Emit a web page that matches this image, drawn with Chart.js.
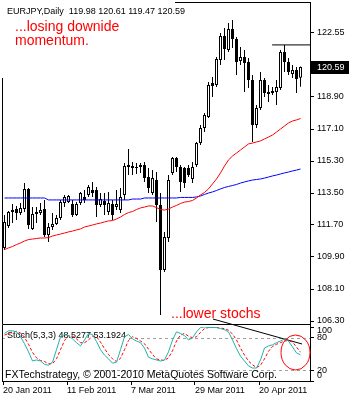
<!DOCTYPE html>
<html>
<head>
<meta charset="utf-8">
<title>EURJPY Daily</title>
<script src="https://cdn.jsdelivr.net/npm/chart.js@4.4.1/dist/chart.umd.min.js"></script>
<style>
  html, body { margin: 0; padding: 0; background: #fff; }
  #wrap { position: relative; width: 350px; height: 400px; overflow: hidden; }
  #wrap canvas { position: absolute; left: 0; }
  #priceChart { top: 0; }
  #stochChart { top: 300px; }
</style>
</head>
<body>
<div id="wrap">
  <canvas id="priceChart" width="350" height="324"></canvas>
  <canvas id="stochChart" width="350" height="100"></canvas>
</div>
<script>
// EURJPY daily bars from 20 Jan 2011 (bar index 0..74)
const opens = [
  110.41, 111.64, 112.54, 112.60, 112.38, 112.60, 113.72, 111.47, 112.32, 112.38,
  112.60, 111.14, 111.59, 111.76, 112.09, 112.94, 112.99, 112.88, 112.26, 112.94,
  113.28, 113.39, 113.67, 113.67, 112.83, 113.05, 112.43, 112.88, 112.71, 112.54,
  113.39, 115.08, 115.02, 114.96, 115.08, 115.08, 114.40, 113.50, 114.23, 112.83,
  109.17, 110.97, 114.63, 115.47, 114.96, 114.91, 114.91, 114.29, 115.08, 116.31,
  117.16, 117.78, 119.69, 119.58, 120.98, 122.33, 121.54, 122.73, 122.16, 120.93,
  121.15, 120.87, 119.86, 117.33, 118.28, 119.86, 119.07, 119.24, 119.18, 119.41,
  121.43, 120.87, 120.19, 120.42, 119.98
];
const highs = [
  112.26, 112.49, 112.88, 112.77, 112.94, 114.06, 113.78, 112.71, 112.71, 112.94,
  113.11, 111.81, 112.38, 112.26, 113.11, 113.39, 113.39, 113.11, 112.99, 113.56,
  113.67, 113.95, 114.12, 113.84, 113.50, 113.50, 113.56, 113.11, 113.67, 113.78,
  115.19, 115.98, 115.24, 115.19, 115.19, 115.24, 114.91, 114.79, 114.68, 113.50,
  111.31, 114.51, 115.53, 115.53, 115.08, 114.96, 115.08, 115.24, 116.37, 117.33,
  118.00, 119.74, 120.03, 121.15, 122.50, 122.78, 123.06, 123.23, 122.28, 121.71,
  121.54, 121.09, 120.14, 118.45, 120.31, 119.97, 119.58, 119.46, 119.86, 121.54,
  121.83, 121.09, 120.70, 120.59, 120.61
];
const lows = [
  110.29, 111.53, 111.81, 111.98, 112.26, 112.43, 111.47, 111.42, 111.81, 112.26,
  111.03, 110.74, 111.42, 111.70, 111.98, 112.71, 112.94, 112.15, 112.21, 112.83,
  112.94, 113.28, 113.28, 112.15, 112.71, 112.26, 112.26, 111.98, 112.54, 112.38,
  113.11, 114.51, 114.51, 114.57, 114.63, 114.12, 113.50, 113.39, 111.87, 106.64,
  109.06, 110.74, 114.51, 114.68, 113.56, 113.78, 114.40, 114.06, 114.96, 116.20,
  116.93, 117.72, 118.90, 119.46, 120.70, 120.98, 121.43, 121.66, 120.14, 120.70,
  119.18, 119.41, 116.37, 117.16, 118.17, 118.90, 118.62, 119.01, 118.45, 119.29,
  120.31, 120.14, 119.97, 119.13, 119.47
];
const closes = [
  111.87, 112.43, 112.43, 112.38, 112.66, 113.72, 111.70, 112.32, 112.43, 112.54,
  111.14, 111.59, 111.76, 112.09, 112.99, 113.28, 113.33, 112.26, 112.88, 113.50,
  113.11, 113.84, 113.50, 112.83, 113.16, 112.83, 112.94, 112.26, 112.88, 113.28,
  115.02, 114.96, 114.91, 114.91, 114.96, 114.34, 113.78, 114.34, 112.83, 109.17,
  111.03, 114.23, 115.47, 114.96, 114.12, 114.06, 114.51, 114.96, 116.31, 117.16,
  117.89, 119.58, 119.52, 121.04, 122.33, 121.60, 122.73, 122.16, 120.87, 121.15,
  120.81, 119.86, 117.33, 118.28, 119.86, 119.13, 119.18, 119.13, 119.46, 121.43,
  120.87, 120.31, 120.42, 119.91, 120.59
];

// moving averages (red and blue)
const maRed = [
  110.32, 110.41, 110.49, 110.60, 110.69, 110.80, 110.88, 110.91, 110.94, 110.97,
  110.97, 110.99, 111.08, 111.14, 111.19, 111.25, 111.31, 111.36, 111.42, 111.48,
  111.59, 111.64, 111.70, 111.76, 111.81, 111.87, 111.93, 111.95, 112.04, 112.15,
  112.29, 112.40, 112.46, 112.57, 112.66, 112.71, 112.77, 112.77, 112.68, 112.57,
  112.54, 112.60, 112.71, 112.80, 112.91, 112.99, 113.02, 113.08, 113.22, 113.39,
  113.53, 113.73, 114.01, 114.29, 114.63, 115.02, 115.36, 115.58, 115.75, 115.92,
  116.09, 116.26, 116.31, 116.37, 116.43, 116.54, 116.65, 116.76, 116.93, 117.10,
  117.27, 117.44, 117.55, 117.61, 117.69
];
const maBlue = [
  113.22, 113.22, 113.22, 113.22, 113.22, 113.22, 113.22, 113.22, 113.22, 113.22,
  113.22, 113.11, 113.11, 113.11, 113.11, 113.11, 113.11, 113.11, 113.11, 113.11,
  113.11, 113.11, 113.11, 113.11, 113.11, 113.11, 113.11, 113.11, 113.11, 113.11,
  113.11, 113.11, 113.16, 113.16, 113.16, 113.22, 113.22, 113.22, 113.22, 113.22,
  113.22, 113.22, 113.22, 113.22, 113.25, 113.25, 113.25, 113.25, 113.28, 113.33,
  113.42, 113.50, 113.56, 113.64, 113.73, 113.81, 113.87, 113.92, 113.98, 114.06,
  114.12, 114.18, 114.23, 114.26, 114.29, 114.34, 114.40, 114.46, 114.51, 114.57,
  114.63, 114.68, 114.74, 114.79, 114.85
];

// Stochastic(5,3,3): main and signal
const stochMain = [
  88, 93, 93, 91, 82, 69, 54, 37, 39, 37,
  31, 29, 35, 58, 82, 86, 84, 78, 71, 65,
  76, 88, 86, 73, 58, 48, 41, 33, 35, 58,
  82, 86, 78, 74, 71, 61, 44, 41, 39, 37,
  39, 54, 76, 91, 88, 84, 76, 80, 91, 99,
  100, 99, 99, 99, 97, 95, 91, 76, 60, 46,
  37, 28, 24, 24, 39, 61, 65, 67, 71, 74,
  78, 74, 63, 52, 48.5277
];
const stochSignal = [
  85, 88, 91, 92, 89, 81, 68, 53, 43, 38,
  36, 32, 32, 41, 58, 75, 84, 83, 78, 71,
  71, 76, 83, 82, 72, 60, 49, 41, 36, 42,
  58, 75, 82, 79, 74, 69, 59, 49, 41, 39,
  38, 43, 56, 74, 85, 88, 83, 80, 82, 90,
  97, 99, 99, 99, 98, 97, 94, 87, 76, 61,
  48, 37, 30, 25, 29, 41, 55, 64, 68, 71,
  74, 75, 72, 63, 53.1924
];

const priceTicks = [106.30, 108.10, 109.90, 111.70, 113.50, 115.30, 117.10, 118.90, 120.70, 122.55];
const priceTickLabels = ['106.30', '108.10', '109.90', '111.70', '113.50', '115.30', '117.10', '118.90', '120.70', '122.55'];
const stochTicks = [0, 20, 80, 100];
const stochTickLabels = ['0', '20', '80', '100'];
const stochLevels = [20, 80];
const dateTicks = [0, 16, 32, 48, 64];
const dateLabels = ['20 Jan 2011', '11 Feb 2011', '7 Mar 2011', '29 Mar 2011', '20 Apr 2011'];

// hand-drawn annotations, in bar index / value units
const resistanceFrom = 66.9;          // runs at the high of bar 70 to the right edge
const resistanceBar = 70;
const trendX = [52.1, 74.4];
const trendY = [114.8, 68.5];
const circleAt = [72.75, 52.8];

const FONT = '"Liberation Sans", Arial, sans-serif';
Chart.defaults.font.family = FONT;
Chart.defaults.font.size = 9;
Chart.defaults.color = '#000';

// 4 px per bar, bar 0 centred at x = 4.5
const X_MIN = -0.375, X_MAX = 76.375;

const pts = arr => arr.map((v, i) => ({ x: i, y: v }));
const bodies = closes.map((c, i) => ({ x: i, y: [opens[i], c] }));
const wicks = closes.map((c, i) => ({ x: i, y: [lows[i], highs[i]] }));
const bodyFill = closes.map((c, i) => (c >= opens[i] ? '#ffffff' : '#000000'));

function fixAxis(size) {
  return axis => {
    if (axis.isHorizontal()) axis.height = size; else axis.width = size;
    axis.paddingTop = axis.paddingBottom = axis.paddingLeft = axis.paddingRight = 0;
  };
}

const priceOverlay = {
  id: 'priceOverlay',
  afterDraw(chart) {
    const { ctx, chartArea: a } = chart;
    const y = chart.scales.y;
    const last = closes.length - 1;
    ctx.save();
    ctx.strokeStyle = '#000';
    ctx.lineWidth = 1;
    ctx.beginPath();
    ctx.moveTo(175, a.top - 0.5); ctx.lineTo(a.right + 1, a.top - 0.5);
    ctx.moveTo(a.left - 0.5, 78); ctx.lineTo(a.left - 0.5, a.bottom + 1);
    ctx.stroke();

    // last price tag on the axis
    const yc = Math.round(y.getPixelForValue(closes[last]));
    ctx.fillStyle = '#000';
    ctx.fillRect(a.right + 1, yc - 6, 38, 13);
    ctx.fillStyle = '#fff';
    ctx.font = '9px ' + FONT;
    ctx.textBaseline = 'middle';
    ctx.fillText(closes[last].toFixed(2), a.right + 7, yc + 0.5);

    ctx.fillStyle = '#000';
    ctx.textBaseline = 'alphabetic';
    ctx.fillText('EURJPY,Daily  ' + [opens[last], highs[last], lows[last], closes[last]].map(v => v.toFixed(2)).join(' '), 7, 14);

    ctx.fillStyle = '#ff0000';
    ctx.font = '14px ' + FONT;
    ctx.fillText('...losing downide', 15, 31);
    ctx.fillText('momentum.', 15, 45);
    ctx.fillText('...lower stochs', 171, 318);
    ctx.restore();
  }
};

new Chart(document.getElementById('priceChart'), {
  type: 'bar',
  data: {
    datasets: [
      { type: 'line', data: pts(maRed), borderColor: '#ff0000', borderWidth: 1, pointRadius: 0, order: 0 },
      { type: 'line', data: pts(maBlue), borderColor: '#0000ff', borderWidth: 1, pointRadius: 0, order: 0 },
      { type: 'line', data: [{ x: resistanceFrom, y: highs[resistanceBar] }, { x: X_MAX, y: highs[resistanceBar] }],
        borderColor: '#000', borderWidth: 1, pointRadius: 0, order: 0 },
      { data: bodies, backgroundColor: bodyFill, borderColor: '#000', borderWidth: 1, borderSkipped: false,
        barThickness: 3, grouped: false, inflateAmount: 0, order: 1 },
      { data: wicks, backgroundColor: '#000', borderWidth: 0, barThickness: 1, grouped: false, inflateAmount: 0, order: 2 }
    ]
  },
  options: {
    responsive: false,
    animation: false,
    events: [],
    layout: { padding: { left: 3, top: 3, right: 0, bottom: 1 } },
    plugins: { legend: { display: false }, tooltip: { enabled: false } },
    scales: {
      x: { type: 'linear', min: X_MIN, max: X_MAX, offset: false, display: false },
      y: {
        type: 'linear', position: 'right', min: 106.1875, max: 124.1875,
        afterBuildTicks: axis => { axis.ticks = priceTicks.map(v => ({ value: v })); },
        afterFit: fixAxis(40),
        ticks: { callback: (v, i) => priceTickLabels[i], padding: 3, autoSkip: false, font: { size: 9 } },
        grid: { drawOnChartArea: false, tickLength: 4, color: '#000' },
        border: { color: '#000' }
      }
    }
  },
  plugins: [priceOverlay]
});

const stochOverlay = {
  id: 'stochOverlay',
  beforeDatasetsDraw(chart) {
    const { ctx, chartArea: a } = chart;
    const y = chart.scales.y;
    ctx.save();
    ctx.strokeStyle = '#a0a0a0';
    ctx.lineWidth = 1;
    ctx.setLineDash([3, 3]);
    stochLevels.forEach(v => {
      const py = Math.round(y.getPixelForValue(v)) + 0.5;
      ctx.beginPath(); ctx.moveTo(a.left, py); ctx.lineTo(a.right, py); ctx.stroke();
    });
    ctx.setLineDash([]);

    const last = stochMain.length - 1;
    const label = 'Stoch(5,3,3) ' + stochMain[last].toFixed(4) + ' ' + stochSignal[last].toFixed(4);
    ctx.font = '9px ' + FONT;
    ctx.fillStyle = '#fff';
    ctx.fillRect(a.left + 2, 31, ctx.measureText(label).width + 4, 9);
    ctx.fillStyle = '#000';
    ctx.fillText(label, a.left + 4, 38);

    ctx.font = '10.5px ' + FONT;
    const brand = 'FXTechstrategy, ';
    ctx.fillStyle = '#fff';
    ctx.fillRect(a.left, 69, ctx.measureText(brand).width + 3, 11);
    ctx.fillStyle = '#000';
    ctx.fillText(brand + '\u00a9 2001-2010 MetaQuotes Software Corp.', a.left + 2, 78);
    ctx.restore();
  },
  afterDraw(chart) {
    const { ctx, chartArea: a } = chart;
    const x = chart.scales.x, y = chart.scales.y;
    ctx.save();
    ctx.strokeStyle = '#000';
    ctx.lineWidth = 1;
    const top = a.top - 2.5;
    ctx.beginPath();
    ctx.moveTo(a.left - 0.5, a.bottom + 1); ctx.lineTo(a.left - 0.5, top); ctx.lineTo(a.right + 1, top);
    ctx.moveTo(a.right + 0.5, top); ctx.lineTo(a.right + 0.5, a.top);
    ctx.stroke();

    // scale labels stay inside the panel
    ctx.font = '9px ' + FONT;
    ctx.fillStyle = '#000';
    ctx.textBaseline = 'middle';
    stochTicks.forEach((v, k) => {
      const py = Math.min(Math.max(y.getPixelForValue(v), a.top + 4), a.bottom - 5);
      ctx.fillText(stochTickLabels[k], a.right + 7, py);
    });

    ctx.strokeStyle = '#ff0000';
    ctx.beginPath();
    ctx.ellipse(x.getPixelForValue(circleAt[0]), y.getPixelForValue(circleAt[1]), 14.5, 17.5, 0, 0, Math.PI * 2);
    ctx.stroke();
    ctx.restore();
  }
};

new Chart(document.getElementById('stochChart'), {
  type: 'line',
  data: {
    datasets: [
      { data: pts(stochMain), borderColor: '#20b2aa', borderWidth: 1, pointRadius: 0 },
      { data: pts(stochSignal), borderColor: '#ff0000', borderWidth: 1, borderDash: [3, 2], pointRadius: 0 },
      { data: trendX.map((v, i) => ({ x: v, y: trendY[i] })), borderColor: '#000', borderWidth: 1, pointRadius: 0, clip: false }
    ]
  },
  options: {
    responsive: false,
    animation: false,
    events: [],
    layout: { padding: { left: 3, top: 27, right: 0, bottom: 0 } },
    plugins: { legend: { display: false }, tooltip: { enabled: false } },
    scales: {
      x: {
        type: 'linear', position: 'bottom', min: X_MIN, max: X_MAX, offset: false,
        // date marks sit on the left edge of their bar
        afterBuildTicks: axis => { axis.ticks = dateTicks.map(v => ({ value: v - 0.375 })); },
        afterFit: fixAxis(19),
        ticks: { callback: (v, i) => dateLabels[i], align: 'start', padding: 0, autoSkip: false,
                 maxRotation: 0, minRotation: 0, font: { size: 9 } },
        grid: { drawOnChartArea: false, tickLength: 4, color: '#000' },
        border: { color: '#000' }
      },
      y: {
        type: 'linear', position: 'right', min: 0, max: 100,
        afterBuildTicks: axis => { axis.ticks = stochTicks.map(v => ({ value: v })); },
        afterFit: fixAxis(40),
        ticks: { display: false },
        grid: { drawOnChartArea: false, tickLength: 4, color: '#000' },
        border: { color: '#000' }
      }
    }
  },
  plugins: [stochOverlay]
});
</script>
</body>
</html>
